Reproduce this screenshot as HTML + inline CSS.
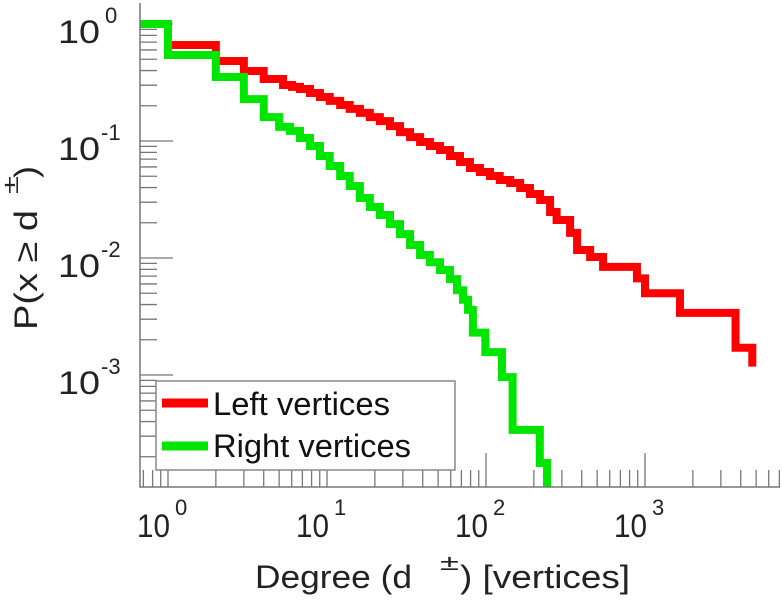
<!DOCTYPE html>
<html><head><meta charset="utf-8"><style>
html,body{margin:0;padding:0;background:#fff;}
svg{display:block;font-family:"Liberation Sans",sans-serif;}
</style></head><body>
<svg id="chart" width="782" height="600" viewBox="0 0 782 600" xmlns="http://www.w3.org/2000/svg">
<g id="ticks"></g>
<g id="series"></g>
<g id="axes"></g>
<g id="labels"></g>
<g transform="rotate(-90)" font-size="32" fill="#222">
<text x="-330" y="37" textLength="120" lengthAdjust="spacingAndGlyphs">P(x ≥ d</text>
<text x="-194" y="18" font-size="22" textLength="18" lengthAdjust="spacingAndGlyphs">±</text>
<text x="-178" y="37" textLength="12" lengthAdjust="spacingAndGlyphs">)</text>
</g>
<g font-size="32" fill="#222">
<text x="255" y="588" textLength="157" lengthAdjust="spacingAndGlyphs">Degree (d</text>
<text x="440" y="570" font-size="22" textLength="19" lengthAdjust="spacingAndGlyphs">±</text>
<text x="460" y="588" textLength="170" lengthAdjust="spacingAndGlyphs">) [vertices]</text>
</g>
<g>
<rect x="156" y="381" width="299" height="89" fill="#fff" stroke="#888" stroke-width="1.5"/>
<line x1="162" y1="403" x2="208" y2="403" stroke="#ff0000" stroke-width="9"/>
<text x="213" y="415" font-size="32" fill="#111" textLength="177" lengthAdjust="spacingAndGlyphs">Left vertices</text>
<line x1="162" y1="446" x2="208" y2="446" stroke="#00e600" stroke-width="9"/>
<text x="213" y="457" font-size="32" fill="#111" textLength="198" lengthAdjust="spacingAndGlyphs">Right vertices</text>
</g>
</svg>
<script>
const leftDegrees = [1,2,3,4,5.29,6.03,6.76,7.82,9.03,10.4,12.1,13.9,16.1,18.6,21.5,24.9,28.8,33.3,38.5,44.4,51.4,59.4,68.6,79.3,91.6,106,122,142,164,189,219,253,278,338,374,452,545,890,1000,1660,3710,4730];
const leftProbs = [0.661,0.483,0.397,0.339,0.301,0.290,0.278,0.257,0.238,0.220,0.203,0.188,0.174,0.160,0.148,0.134,0.119,0.108,0.098,0.0906,0.0838,0.0745,0.0662,0.0588,0.0543,0.0502,0.0464,0.0438,0.0397,0.0352,0.0313,0.0247,0.0211,0.0164,0.0117,0.0102,0.0084,0.0067,0.0050,0.0034,0.00171,0.00118];
const rightDegrees = [1,2,3,4,5,5.85,6.76,7.82,9.03,10.4,12.1,13.9,16.1,18.6,21.5,24.9,28.8,33.3,38.5,44.4,51.4,59.4,65.7,71.7,77.1,82.7,99,126,147,218,242];
const rightProbs = [0.543,0.352,0.228,0.160,0.132,0.122,0.106,0.0906,0.0745,0.0611,0.0502,0.0412,0.0326,0.0273,0.0233,0.0195,0.0160,0.0129,0.0106,0.0092,0.0079,0.0066,0.0053,0.0044,0.0036,0.0023,0.00157,0.00096,0.00034,0.000177,0.00005];
const xTickExps = [0,1,2,3];
const yTickExps = [0,-1,-2,-3];

const X0=168, XDEC=159, Y0=24, YDEC=117;
const LEFT=140, BOTTOM=487, RIGHT=780, TOP=3;
const xs = d => X0 + XDEC*Math.log10(d);
const ys = p => Math.min(BOTTOM+10, Y0 - YDEC*Math.log10(p));
const NS='http://www.w3.org/2000/svg';
function mk(tag, parent){const e=document.createElementNS(NS,tag);parent.appendChild(e);return e;}

const ticks=document.getElementById('ticks');
const xmin=Math.pow(10,(LEFT-X0)/XDEC), xmax=Math.pow(10,(RIGHT-X0)/XDEC);
for(let e=-1;e<=4;e++){for(let m=1;m<=9;m++){const v=m*Math.pow(10,e);if(v<xmin||v>xmax)continue;
 const x=xs(v);const t=mk('line',ticks);
 
 
 t.setAttribute('x1',x);t.setAttribute('x2',x);t.setAttribute('y1',BOTTOM);t.setAttribute('y2',BOTTOM-(m===1?34:17));
 t.setAttribute('stroke','#777');t.setAttribute('stroke-width','1.3');}}
const pmin=Math.pow(10,-(BOTTOM-Y0)/YDEC), pmax=Math.pow(10,(Y0-TOP)/YDEC);
for(let e=-4;e<=0;e++){for(let m=1;m<=9;m++){const v=m*Math.pow(10,e);if(v<pmin||v>pmax)continue;
 const y=ys(v);const t=mk('line',ticks);
 
 
 t.setAttribute('x1',LEFT);t.setAttribute('x2',LEFT+(m===1?33:17));t.setAttribute('y1',y);t.setAttribute('y2',y);
 t.setAttribute('stroke','#777');t.setAttribute('stroke-width','1.3');}}

const axes=document.getElementById('axes');
const ax=mk('path',axes);


ax.setAttribute('d',`M${LEFT},${TOP}V${BOTTOM}H${RIGHT}`);ax.setAttribute('stroke','#777');ax.setAttribute('stroke-width','1.5');ax.setAttribute('fill','none');

function stepPath(ds,ps){let d=`M${LEFT},${ys(1)}`;
 for(let i=0;i<ds.length;i++){d+=`H${xs(ds[i])}V${ys(ps[i])}`;}
 return d;}
const series=document.getElementById('series');
const rp=mk('path',series);


rp.setAttribute('d',stepPath(leftDegrees,leftProbs));rp.setAttribute('stroke','#ff0000');
const gp=mk('path',series);


gp.setAttribute('d',stepPath(rightDegrees,rightProbs));gp.setAttribute('stroke','#00e600');
[gp,rp].forEach(p=>{p.setAttribute('stroke-width','8');p.setAttribute('fill','none');p.setAttribute('stroke-linejoin','miter');p.setAttribute('stroke-linecap','butt');});
const cp=mk('clipPath',document.getElementById('chart'));cp.setAttribute('id','plotclip');
const cr=mk('rect',cp);cr.setAttribute('x',LEFT);cr.setAttribute('y',0);cr.setAttribute('width',RIGHT-LEFT);cr.setAttribute('height',BOTTOM);
series.setAttribute('clip-path','url(#plotclip)');

const labels=document.getElementById('labels');
xTickExps.forEach(e=>{const x=xs(Math.pow(10,e));
 const t=mk('text',labels);
 
 
 t.setAttribute('x',x+2);t.setAttribute('y',537);t.setAttribute('text-anchor','end');t.setAttribute('font-size','32');t.setAttribute('fill','#222');
 t.setAttribute('textLength','33');t.setAttribute('lengthAdjust','spacingAndGlyphs');t.textContent='10';
 const s=mk('text',labels);
 
 
 s.setAttribute('x',x+7);s.setAttribute('y',515);s.setAttribute('font-size','22');s.setAttribute('fill','#222');s.textContent=String(e);});
yTickExps.forEach(e=>{const y=ys(Math.pow(10,e));
 const t=mk('text',labels);
 
 
 t.setAttribute('x',100);t.setAttribute('y',y+19);t.setAttribute('text-anchor','end');t.setAttribute('font-size','32');t.setAttribute('fill','#222');
 t.setAttribute('textLength','42');t.setAttribute('lengthAdjust','spacingAndGlyphs');t.textContent='10';
 const s=mk('text',labels);
 
 
 s.setAttribute('x',e===0?105:101);s.setAttribute('y',y-1);s.setAttribute('font-size','22');s.setAttribute('fill','#222');s.textContent=String(e);});
</script>
</body></html>
